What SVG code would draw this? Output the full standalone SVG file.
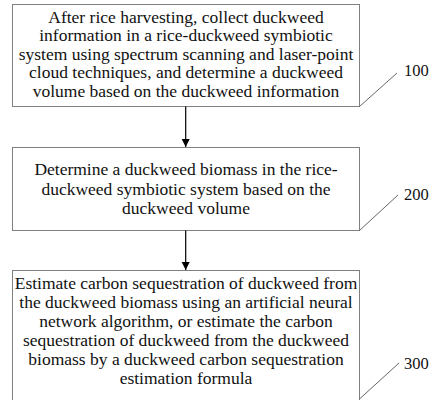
<svg xmlns="http://www.w3.org/2000/svg" width="432" height="400" viewBox="0 0 432 400">
<style>
.box{fill:#fff;stroke:#808080;stroke-width:1}
.t{font-family:'Liberation Serif','Times New Roman',serif;font-size:17.5px;fill:#111;text-anchor:middle}
.lbl{font-family:'Liberation Serif','Times New Roman',serif;font-size:16.5px;fill:#111}
.lead{stroke:#555;stroke-width:0.9;fill:none}
.arr{stroke:#000;stroke-width:1.2;fill:none;marker-end:url(#ah)}
</style>
<defs>
<marker id="ah" viewBox="0 0 10 10" refX="10" refY="5" markerWidth="8" markerHeight="9" markerUnits="userSpaceOnUse" orient="auto">
<path d="M0,0 L10,5 L0,10 Z" fill="#000"/>
</marker>
</defs>
<rect width="432" height="400" fill="#fff"/>
<g id="node100">
<rect class="box" x="12.5" y="4.5" width="347" height="102"/>
<text class="t" x="186" y="22.5">After rice harvesting, collect duckweed</text>
<text class="t" x="186" y="41">information in a rice-duckweed symbiotic</text>
<text class="t" x="186" y="59.5">system using spectrum scanning and laser-point</text>
<text class="t" x="186" y="78">cloud techniques, and determine a duckweed</text>
<text class="t" x="186" y="96.5">volume based on the duckweed information</text>
<line class="lead" x1="359.5" y1="106.5" x2="397" y2="73"/>
<text class="lbl" x="404" y="76">100</text>
</g>
<g id="node200">
<rect class="box" x="12.5" y="147.5" width="347" height="83"/>
<text class="t" x="186" y="175">Determine a duckweed biomass in the rice-</text>
<text class="t" x="186" y="194.5">duckweed symbiotic system based on the</text>
<text class="t" x="186" y="214">duckweed volume</text>
<line class="lead" x1="359.5" y1="230.5" x2="398" y2="195"/>
<text class="lbl" x="404" y="199.5">200</text>
</g>
<g id="node300">
<rect class="box" x="12.5" y="270.5" width="347" height="130"/>
<text class="t" x="186" y="288.5">Estimate carbon sequestration of duckweed from</text>
<text class="t" x="186" y="307.5">the duckweed biomass using an artificial neural</text>
<text class="t" x="186" y="326.5">network algorithm, or estimate the carbon</text>
<text class="t" x="186" y="345.5">sequestration of duckweed from the duckweed</text>
<text class="t" x="186" y="364.5">biomass by a duckweed carbon sequestration</text>
<text class="t" x="186" y="383.5">estimation formula</text>
<line class="lead" x1="359.5" y1="399" x2="399" y2="363"/>
<text class="lbl" x="404" y="368.5">300</text>
</g>
<g id="connectors">
<line class="arr" x1="185.7" y1="106.5" x2="185.7" y2="147"/>
<line class="arr" x1="185.7" y1="230.5" x2="185.7" y2="270"/>
</g>
</svg>
